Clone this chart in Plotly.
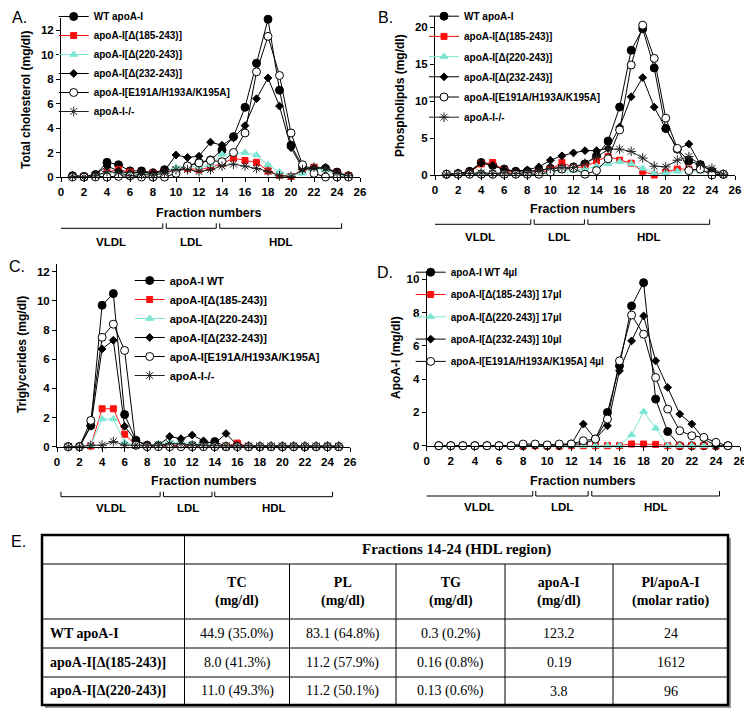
import plotly.graph_objects as go

# the page body has an 8px margin, so the figure is drawn 8px smaller and
# every layout position below is given in window pixels, then converted
OFF = 8
W, H = 752 - OFF, 708 - OFF

fractions = list(range(1, 26))

# legend labels
names_ab = ["WT apoA-I", "apoA-I[Δ(185-243)]", "apoA-I[Δ(220-243)]",
            "apoA-I[Δ(232-243)]", "apoA-I[E191A/H193A/K195A]", "apoA-I-/-"]
names_c = ["apoA-I WT", "apoA-I[Δ(185-243)]", "apoA-I[Δ(220-243)]",
           "apoA-I[Δ(232-243)]", "apoA-I[E191A/H193A/K195A]", "apoA-I-/-"]
names_d = ["apoA-I WT 4µl", "apoA-I[Δ(185-243)] 17µl", "apoA-I[Δ(220-243)] 17µl",
           "apoA-I[Δ(232-243)] 10µl", "apoA-I[E191A/H193A/K195A] 4µl"]

# A. total cholesterol (mg/dl)
tc_wt = [0.1, 0.05, 0.2, 1.2, 1.0, 0.5, 0.5, 0.35, 0.6, 0.6, 0.9, 1.2, 1.4, 2.2, 3.3, 5.7, 9.3, 12.9, 7.1, 2.6, 0.9, 0.7, 0.7, 0.4, 0.1]
tc_d185 = [0.05, 0.05, 0.1, 0.4, 0.6, 0.4, 0.3, 0.3, 0.4, 0.6, 0.7, 0.6, 0.8, 1.1, 1.55, 1.35, 1.2, 0.5, 0.15, 0.05, 0.5, 0.8, 0.7, 0.3, 0.1]
tc_d220 = [0.05, 0.05, 0.1, 0.3, 0.4, 0.3, 0.3, 0.2, 0.4, 0.8, 0.9, 0.8, 1.0, 1.85, 1.95, 2.0, 1.8, 1.0, 0.4, 0.1, 0.3, 0.7, 0.6, 0.2, 0.05]
tc_d232 = [0.1, 0.05, 0.2, 0.9, 0.5, 0.3, 0.4, 0.3, 0.5, 1.8, 1.6, 1.7, 2.85, 2.6, 3.2, 4.2, 6.4, 8.1, 5.8, 2.4, 0.7, 0.7, 0.8, 0.3, 0.1]
tc_e191a = [0.0, 0.0, 0.0, 0.0, 0.05, 0.1, 0.0, 0.0, 0.0, 0.3, 0.9, 1.15, 1.35, 1.25, 2.0, 3.6, 8.6, 11.5, 8.3, 3.6, 1.0, 0.3, 0.0, 0.0, 0.0]
tc_ko = [0.05, 0.0, 0.1, 0.45, 0.35, 0.1, 0.2, 0.15, 0.3, 0.6, 0.6, 0.45, 0.6, 0.9, 1.05, 0.9, 0.7, 0.45, 0.1, 0.05, 0.6, 0.8, 0.7, 0.3, 0.1]

# B. phospholipids (mg/dl)
pl_wt = [0.1, 0.2, 0.5, 1.7, 1.3, 0.8, 0.5, 0.5, 0.6, 0.9, 1.0, 1.1, 1.5, 2.6, 4.6, 9.2, 16.9, 19.8, 14.5, 6.3, 3.5, 1.9, 1.4, 0.5, 0.1]
pl_d185 = [0.1, 0.1, 0.3, 1.5, 1.7, 0.6, 0.3, 0.2, 0.3, 0.7, 1.7, 1.0, 1.1, 1.9, 2.5, 2.0, 1.6, 0.5, 0.0, 0.4, 0.8, 0.8, 0.7, 0.2, 0.1]
pl_d220 = [0.0, 0.0, 0.1, 0.3, 0.3, 0.2, 0.2, 0.1, 0.2, 0.4, 0.6, 0.6, 0.8, 1.2, 1.5, 1.8, 1.5, 0.9, 0.2, 0.3, 0.5, 0.6, 0.5, 0.2, 0.0]
pl_d232 = [0.1, 0.2, 0.4, 1.6, 1.3, 0.7, 0.5, 0.7, 1.1, 2.0, 2.6, 3.0, 3.3, 3.3, 3.6, 6.5, 10.6, 13.2, 9.2, 6.3, 3.5, 4.2, 1.4, 0.5, 0.1]
pl_e191a = [0.1, 0.1, 0.1, 0.1, 0.1, 0.1, 0.1, 0.1, 0.1, 0.4, 0.8, 0.9, 0.1, 0.6, 2.2, 6.1, 14.9, 20.3, 15.8, 7.7, 3.6, 0.6, 0.8, 0.0, 0.1]
pl_ko = [0.1, 0.2, 0.2, 0.3, 0.2, 0.3, 0.2, 0.3, 0.5, 0.9, 1.0, 1.0, 1.6, 2.4, 3.5, 3.5, 3.2, 2.3, 1.2, 1.1, 2.0, 2.5, 1.4, 0.9, 0.1]

# C. triglycerides (mg/dl)
tg_wt = [0.0, 0.0, 1.45, 9.7, 10.5, 2.2, 0.45, 0.1, 0.1, 0.1, 0.1, 0.1, 0.2, 0.35, 0.0, 0.1, 0.0, 0.0, 0.0, 0.0, 0.0, 0.0, 0.0, 0.0, 0.0]
tg_d185 = [0.0, 0.0, 0.05, 2.6, 2.6, 0.85, 0.1, 0.05, 0.05, 0.05, 0.05, 0.05, 0.05, 0.05, 0.05, 0.25, 0.0, 0.0, 0.0, 0.0, 0.0, 0.0, 0.0, 0.0, 0.0]
tg_d220 = [0.0, 0.0, 0.1, 1.9, 1.9, 0.3, 0.1, 0.1, 0.2, 0.3, 0.3, 0.2, 0.2, 0.1, 0.1, 0.05, 0.05, 0.05, 0.05, 0.05, 0.05, 0.05, 0.05, 0.05, 0.05]
tg_d232 = [0.0, 0.0, 1.4, 6.7, 7.3, 1.4, 0.4, 0.1, 0.1, 0.7, 0.55, 0.8, 0.4, 0.2, 0.9, 0.1, 0.0, 0.0, 0.0, 0.0, 0.0, 0.0, 0.0, 0.0, 0.0]
tg_e191a = [0.0, 0.0, 1.8, 7.5, 8.4, 6.6, 0.1, 0.0, 0.0, 0.0, 0.0, 0.0, 0.0, 0.0, 0.0, 0.0, 0.0, 0.0, 0.0, 0.0, 0.0, 0.0, 0.0, 0.0, 0.0]
tg_ko = [0.0, 0.0, 0.1, 0.1, 0.35, 0.1, 0.1, 0.1, 0.1, 0.2, 0.2, 0.1, 0.1, 0.1, 0.05, 0.05, 0.05, 0.05, 0.05, 0.05, 0.05, 0.05, 0.05, 0.05, 0.05]

# D. apoA-I (mg/dl)
ap_wt = [0.0, 0.0, 0.0, 0.0, 0.0, 0.0, 0.0, 0.0, 0.05, 0.0, 0.0, 0.1, 0.1, 0.4, 2.0, 4.8, 8.4, 9.8, 2.8, 0.85, 0.0, 0.0, 0.0, 0.0, 0.0]
ap_d185 = [0.0, 0.0, 0.0, 0.0, 0.0, 0.0, 0.0, 0.0, 0.0, 0.0, 0.0, 0.0, 0.0, 0.0, 0.0, 0.0, 0.1, 0.1, 0.08, 0.0, 0.0, 0.0, 0.0, 0.0, 0.0]
ap_d220 = [0.0, 0.0, 0.0, 0.0, 0.0, 0.0, 0.0, 0.0, 0.0, 0.0, 0.0, 0.0, 0.0, 0.0, 0.0, 0.0, 0.65, 2.05, 1.05, 0.0, 0.0, 0.0, 0.0, 0.0, 0.0]
ap_d232 = [0.0, 0.0, 0.0, 0.0, 0.0, 0.0, 0.0, 0.0, 0.0, 0.0, 0.0, 0.1, 1.3, 0.4, 1.2, 4.5, 6.3, 7.8, 5.1, 3.5, 1.9, 1.3, 0.4, 0.0, 0.0]
ap_e191a = [0.0, 0.0, 0.0, 0.0, 0.0, 0.0, 0.0, 0.1, 0.1, 0.05, 0.1, 0.1, 0.3, 0.4, 1.6, 5.1, 7.85, 6.7, 4.1, 2.2, 0.9, 0.6, 0.5, 0.2, 0.0]

# E. table, fractions 14-24
table_header = "Fractions 14-24 (HDL region)"
table_columns = ["TC<br>(mg/dl)", "PL<br>(mg/dl)", "TG<br>(mg/dl)",
                 "apoA-I<br>(mg/dl)", "Pl/apoA-I<br>(molar ratio)"]
table_rows = ["WT apoA-I", "apoA-I[Δ(185-243)]", "apoA-I[Δ(220-243)]"]
tbl_tc = ["44.9 (35.0%)", "8.0 (41.3%)", "11.0 (49.3%)"]
tbl_pl = ["83.1 (64.8%)", "11.2 (57.9%)", "11.2 (50.1%)"]
tbl_tg = ["0.3 (0.2%)", "0.16 (0.8%)", "0.13 (0.6%)"]
tbl_apoa = ["123.2", "0.19", "3.8"]
tbl_ratio = ["24", "1612", "96"]

CYAN = "#7ce6d2"
RED = "#ff1010"
SANS = "Arial, Liberation Sans, sans-serif"
SERIF = "Times New Roman, Liberation Serif, serif"

# marker / line styles per series (same order as legends)
styles = [
    dict(symbol="circle", line="black", fill="black", size=8),
    dict(symbol="square", line=RED, fill=RED, size=6),
    dict(symbol="triangle-up", line=CYAN, fill=CYAN, size=7),
    dict(symbol="diamond", line="black", fill="black", size=6),
    dict(symbol="circle", line="black", fill="white", size=8),
    dict(symbol="asterisk-open", line="#222222", fill="#222222", size=8),
]


def px(x):
    return (x - OFF) / W


def py(y):
    return 1 - (y - OFF) / H


panels = [
    dict(ax="", leg="legend", names=names_ab, data=[tc_wt, tc_d185, tc_d220, tc_d232, tc_e191a, tc_ko]),
    dict(ax="2", leg="legend2", names=names_ab, data=[pl_wt, pl_d185, pl_d220, pl_d232, pl_e191a, pl_ko]),
    dict(ax="3", leg="legend3", names=names_c, data=[tg_wt, tg_d185, tg_d220, tg_d232, tg_e191a, tg_ko]),
    dict(ax="4", leg="legend4", names=names_d, data=[ap_wt, ap_d185, ap_d220, ap_d232, ap_e191a]),
]

fig = go.Figure()

for p in panels:
    for i, (name, vals) in enumerate(zip(p["names"], p["data"])):
        st = styles[i]
        fig.add_trace(go.Scatter(
            x=fractions, y=vals, name=name, mode="lines+markers",
            xaxis="x" + p["ax"], yaxis="y" + p["ax"], legend=p["leg"],
            legendgroup=p["leg"] + str(i),
            line=dict(color=st["line"], width=1),
            marker=dict(symbol=st["symbol"], size=st["size"], color=st["fill"],
                        line=dict(color=st["line"], width=1)),
            cliponaxis=False,
        ))

axis_common = dict(showline=True, linecolor="black", linewidth=1, ticks="outside",
                   ticklen=4, tickcolor="black", showgrid=False, zeroline=False,
                   tickfont=dict(family=SANS, size=11.5, color="black", weight="bold"))

# plot areas in window pixels: x of fraction 0 and 26, y of value 0 and ymax
geom = {
    "": dict(x=(61, 360), y=(177, 18), ymax=13, dtick=2),
    "2": dict(x=(435, 735), y=(175, 16.3), ymax=21.5, dtick=5),
    "3": dict(x=(57, 350), y=(446.7, 264.4), ymax=12.5, dtick=2),
    "4": dict(x=(426.7, 740), y=(445.7, 271), ymax=10.5, dtick=2),
}

lay = {}
for k, g in geom.items():
    lay["xaxis" + k] = dict(axis_common, domain=[px(g["x"][0]), px(g["x"][1])],
                            range=[0, 26], dtick=2, tick0=0, anchor="y" + k)
    lay["yaxis" + k] = dict(axis_common, domain=[py(g["y"][0]), py(g["y"][1])],
                            range=[0, g["ymax"]], dtick=g["dtick"], tick0=0, anchor="x" + k)

legend_common = dict(xanchor="left", yanchor="top", bgcolor="rgba(0,0,0,0)",
                     traceorder="grouped", itemclick=False, itemdoubleclick=False)
lay["legend"] = dict(legend_common, x=px(53.7), y=py(2), tracegroupgap=0,
                     font=dict(family=SANS, size=10, color="black", weight="bold"))
lay["legend2"] = dict(legend_common, x=px(424), y=py(1.7), tracegroupgap=1.2,
                      font=dict(family=SANS, size=10, color="black", weight="bold"))
lay["legend3"] = dict(legend_common, x=px(129.7), y=py(266), tracegroupgap=0,
                      font=dict(family=SANS, size=11, color="black", weight="bold"))
lay["legend4"] = dict(legend_common, x=px(410.7), y=py(257.7), tracegroupgap=3.3,
                      font=dict(family=SANS, size=10, color="black", weight="bold"))

annotations = []
shapes = []


def text(x, y, s, size, bold=True, family=SANS, xref="paper", angle=0, xanchor="center"):
    annotations.append(dict(
        x=x, y=y, xref=xref, yref="paper", text=s, showarrow=False, textangle=angle,
        xanchor=xanchor, yanchor="middle",
        font=dict(family=family, size=size, color="black", weight="bold" if bold else "normal")))


# panel letters
for letter, (lx, ly) in {"A.": (19, 17.5), "B.": (385, 17.5), "C.": (17, 266),
                         "D.": (385, 272), "E.": (18, 541)}.items():
    text(px(lx), py(ly), letter, 16, bold=False)

# y-axis titles
text(px(26), py(100), "Total cholesterol (mg/dl)", 12, angle=-90)
text(px(400), py(96), "Phospholipds (mg/dl)", 12, angle=-90)
text(px(22), py(355), "Triglycerides (mg/dl)", 12, angle=-90)
text(px(396), py(358), "ApoA-I (mg/dl)", 12, angle=-90)

# fraction labels + lipoprotein brackets
region_names = ["VLDL", "LDL", "HDL"]
brackets = {
    "": dict(title=(209, 213), line=228.3, label=242, edges=[(-0.1, 8.85), (9.15, 13.5), (13.8, 24.4)]),
    "2": dict(title=(583, 209), line=224.3, label=236.7, edges=[(-0.55, 8.3), (8.6, 12.95), (13.25, 23.8)]),
    "3": dict(title=(204, 481), line=496.7, label=508.3, edges=[(0.35, 9.15), (9.45, 13.75), (14.0, 24.45)]),
    "4": dict(title=(583, 481), line=496, label=506.7, edges=[(-0.15, 8.8), (9.05, 13.4), (13.7, 24.3)]),
}
for k, b in brackets.items():
    text(px(b["title"][0]), py(b["title"][1]), "Fraction numbers", 12.5)
    for name, (e0, e1) in zip(region_names, b["edges"]):
        y0, y1 = py(b["line"]), py(b["line"] - 5)
        shapes.append(dict(type="path", xref="x" + k, yref="paper",
                           path=f"M {e0},{y1} L {e0},{y0} L {e1},{y0} L {e1},{y1}",
                           line=dict(color="black", width=1)))
        text((e0 + e1) / 2, py(b["label"]), name, 11.5, xref="x" + k)

# table
col_edges = [42, 184.5, 289.5, 396, 505, 613, 728]
row_edges = [535, 564, 619, 648, 677, 705]
shapes.append(dict(type="rect", xref="paper", yref="paper",
                   x0=px(col_edges[0] + 3), x1=px(col_edges[-1] + 3),
                   y0=py(row_edges[0] + 3), y1=py(row_edges[-1] + 3),
                   fillcolor="#9a9a9a", line=dict(width=0), layer="below"))
shapes.append(dict(type="rect", xref="paper", yref="paper",
                   x0=px(col_edges[0]), x1=px(col_edges[-1]),
                   y0=py(row_edges[0]), y1=py(row_edges[-1]),
                   fillcolor="white", line=dict(color="black", width=2.5), layer="below"))
for yy in row_edges[1:-1]:
    shapes.append(dict(type="line", xref="paper", yref="paper",
                       x0=px(col_edges[0]), x1=px(col_edges[-1]), y0=py(yy), y1=py(yy),
                       line=dict(color="black", width=1)))
for i, xx in enumerate(col_edges[1:-1]):
    top = row_edges[0] if i == 0 else row_edges[1]
    shapes.append(dict(type="line", xref="paper", yref="paper",
                       x0=px(xx), x1=px(xx), y0=py(top), y1=py(row_edges[-1]),
                       line=dict(color="black", width=1)))

text(px((col_edges[1] + col_edges[-1]) / 2), py((row_edges[0] + row_edges[1]) / 2),
     table_header, 15, family=SERIF)
for j, head in enumerate(table_columns):
    text(px((col_edges[j + 1] + col_edges[j + 2]) / 2), py((row_edges[1] + row_edges[2]) / 2),
         head, 14, family=SERIF)
cols = [tbl_tc, tbl_pl, tbl_tg, tbl_apoa, tbl_ratio]
for r, label in enumerate(table_rows):
    yc = py((row_edges[r + 2] + row_edges[r + 3]) / 2)
    text(px(col_edges[0] + 6), yc, label, 14, family=SERIF, xanchor="left")
    for j, col in enumerate(cols):
        text(px((col_edges[j + 1] + col_edges[j + 2]) / 2), yc, col[r], 14, bold=False, family=SERIF)

fig.update_layout(
    width=W, height=H, margin=dict(l=0, r=0, t=0, b=0, autoexpand=False),
    paper_bgcolor="white", plot_bgcolor="rgba(0,0,0,0)",
    showlegend=True, annotations=annotations, shapes=shapes,
    **lay,
)

fig.write_html("out.html")
